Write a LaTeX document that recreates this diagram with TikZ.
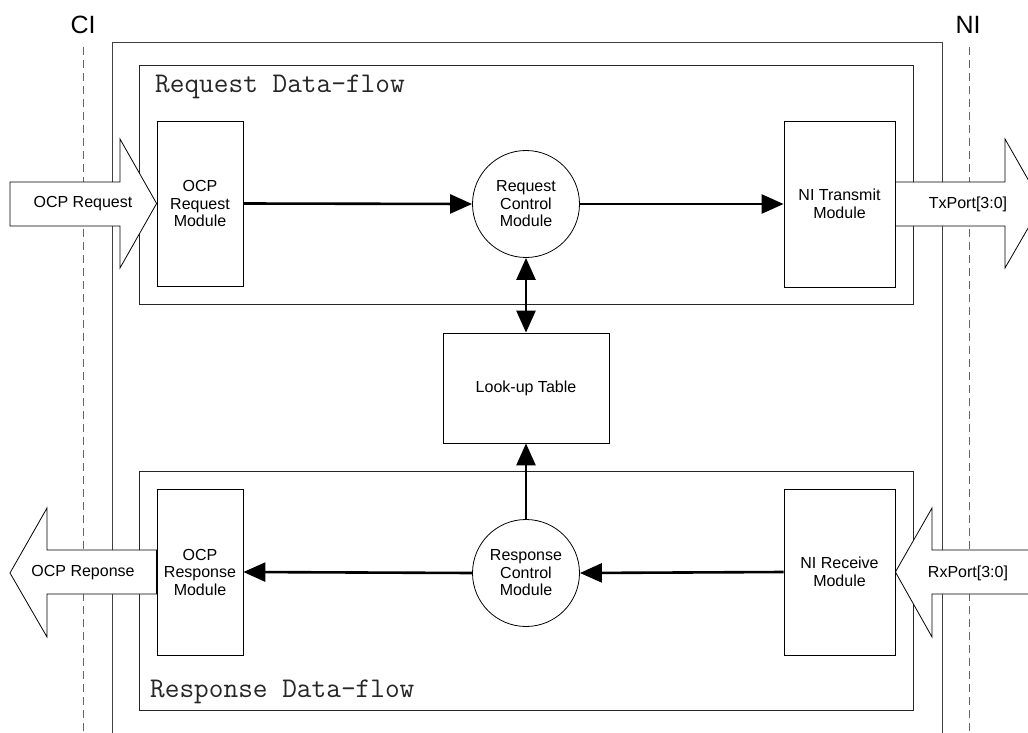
\documentclass[tikz,border=0pt]{standalone}
\usepackage{fontspec}
\setmainfont{Liberation Sans}
\usetikzlibrary{arrows.meta}
\begin{document}
\begin{tikzpicture}[x=1pt,y=-1pt,
  frameline/.style={draw=black!75, line width=1pt},
  region/.style={draw=black!85, line width=1pt},
  module/.style={draw=black, line width=0.8pt, fill=white, align=center, inner sep=0pt,
    font=\fontsize{16}{17.5}\selectfont},
  ctrl/.style={circle, draw=black, line width=0.8pt, fill=white, minimum size=107pt,
    inner sep=0pt, align=center, font=\fontsize{16}{17.5}\selectfont},
  flow/.style={line width=2.6pt, -{Triangle[length=22pt,width=19pt]}},
  flowboth/.style={line width=2.6pt, {Triangle[length=22pt,width=19pt]}-{Triangle[length=22pt,width=19pt]}},
  bigarrow/.style={draw=black, line width=0.8pt, fill=white, line join=miter},
  portlabel/.style={font=\fontsize{16}{18}\selectfont, inner sep=0pt},
  ifacelabel/.style={font=\fontsize{25}{28}\selectfont, inner sep=0pt},
  regionlabel/.style={font=\ttfamily\fontsize{28.5}{31}\selectfont, text=black!85, inner sep=0pt, anchor=west},
  divider/.style={draw=black!60, line width=0.9pt, dash pattern=on 8pt off 5pt}
]
\useasboundingbox (0,0) rectangle (1028,733);
\clip (0,0) rectangle (1028,733);
\fill[white] (0,0) rectangle (1028,733);

% interface labels and dashed dividers
\node[ifacelabel] (ci) at (83,25) {CI};
\node[ifacelabel] (ni) at (968,25) {NI};
\coordinate (ciend) at (83,735);
\coordinate (niend) at (969,735);
\draw[divider] (83,47) -- (ciend);
\draw[divider] (969,47) -- (niend);

% outer frame (open at the bottom)
\draw[frameline] (112,735) -- (112,43) -- (942,43) -- (942,735);

% data-flow regions
\draw[region] (139,66) rectangle (913,304);
\draw[region] (139,471) rectangle (913,710);
\node[regionlabel] (reqlabel) at (155,87) {Request Data-flow};
\node[regionlabel] (resplabel) at (150,692) {Response Data-flow};

% modules
\node[module, minimum width=86pt, minimum height=165pt] (reqmod) at (200,203.5) {OCP\\Request\\Module};
\node[module, minimum width=111pt, minimum height=166pt] (nitx) at (839.5,204) {NI Transmit\\Module};
\node[module, minimum width=86pt, minimum height=166pt] (respmod) at (200,572) {OCP\\Response\\Module};
\node[module, minimum width=111pt, minimum height=166pt] (nirx) at (839.5,572) {NI Receive\\Module};
\node[module, minimum width=166pt, minimum height=110pt] (lut) at (526,388) {Look-up Table};
\node[ctrl] (reqctrl) at (526,204) {Request\\Control\\Module};
\node[ctrl] (respctrl) at (526,573) {Response\\Control\\Module};

% big port arrows
\draw[bigarrow] (10,182) -- (120,182) -- (120,139) -- (reqmod.west) -- (120,268) -- (120,226) -- (10,226) -- cycle;
\node[portlabel] (ocpreq) at (83,204) {OCP Request};

\draw[bigarrow] (nitx.east |- 0,182) -- (1005,182) -- (1005,139) -- (1042,204) -- (1005,268) -- (1005,226) -- (nitx.east |- 0,226) -- cycle;
\node[portlabel] (txport) at (968,204) {TxPort[3:0]};

\draw[bigarrow] (respmod.west |- 0,550) -- (47,550) -- (47,508) -- (10,573) -- (47,637) -- (47,594) -- (respmod.west |- 0,594) -- cycle;
\node[portlabel] (ocpresp) at (83,573) {OCP Reponse};

\draw[bigarrow] (1040,550) -- (932,550) -- (932,508) -- (nirx.east) -- (932,637) -- (932,594) -- (1040,594) -- cycle;
\node[portlabel] (rxport) at (968,573) {RxPort[3:0]};

% connectors
\draw[flow] (reqmod.east) -- (reqctrl.west);
\draw[flow] (reqctrl.east) -- (nitx.west);
\draw[flowboth] (reqctrl.south) -- (lut.north);
\draw[flow] (respctrl.north) -- (lut.south);
\draw[flow] (nirx.west) -- (respctrl.east);
\draw[flow] (respctrl.west) -- (respmod.east);
\end{tikzpicture}
\end{document}
